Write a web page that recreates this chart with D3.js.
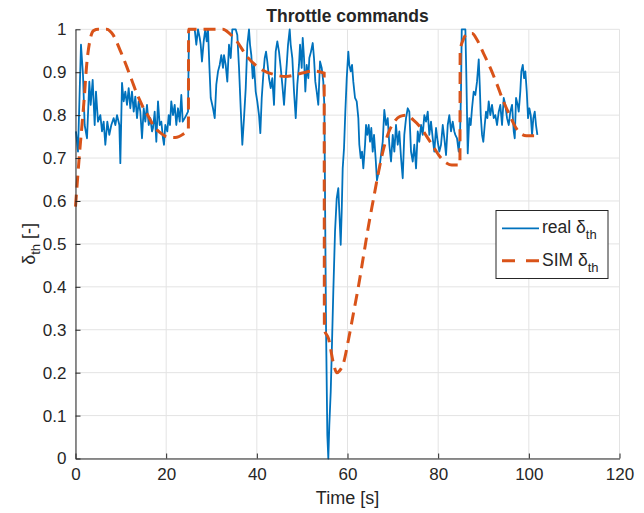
<!DOCTYPE html>
<html><head><meta charset="utf-8">
<script src="https://cdn.jsdelivr.net/npm/d3@7"></script>
<style>
body{margin:0;background:#fff}
svg{display:block}
text{font-family:"Liberation Sans",Arial,Helvetica,sans-serif;fill:#262626}
</style>
</head><body>
<svg id="chart" width="644" height="513"></svg>
<script>
const titleText = "Throttle commands";
const xLabel = "Time [s]";
const xTicks = [0, 20, 40, 60, 80, 100, 120];
const yTicks = [0, 0.1, 0.2, 0.3, 0.4, 0.5, 0.6, 0.7, 0.8, 0.9, 1];
const yTickLabels = ["0", "0.1", "0.2", "0.3", "0.4", "0.5", "0.6", "0.7", "0.8", "0.9", "1"];
const seriesNames = ["real", "SIM"];

const realT = [0.1,0.55,1.21,1.65,2.02,2.54,3.05,3.35,3.79,4.23,4.52,4.96,5.48,5.85,6.21,6.58,7.02,7.46,7.9,8.42,8.79,9.16,9.67,9.89,10.26,10.63,10.99,11.36,11.73,12.09,12.46,12.84,13.19,13.57,13.94,14.3,14.67,15.05,15.4,15.77,16.15,16.5,16.88,17.1,17.47,17.83,18.2,18.57,18.93,19.3,19.52,19.81,20.25,20.56,20.85,21.13,21.51,21.88,22.24,22.61,22.99,23.34,23.65,24.09,24.44,24.82,25.04,26.3,26.65,27.02,27.4,27.62,27.9,28.28,28.63,28.94,29.23,29.52,29.83,30.33,30.71,31.06,31.44,31.81,32.16,32.54,32.76,33.13,33.49,33.86,34.24,34.59,35.34,35.69,36.07,36.44,36.8,37.17,37.55,37.9,38.27,38.5,38.78,39.09,39.38,39.75,40.1,40.48,40.77,41.08,41.43,41.74,42.03,42.31,42.69,43.06,43.41,43.79,44.16,44.52,44.89,45.27,45.62,46.0,46.37,46.59,46.88,47.25,47.47,47.83,48.2,48.58,48.93,49.3,49.53,49.9,50.12,50.41,50.7,51.0,51.36,51.58,51.95,52.33,52.61,52.9,53.21,53.56,53.94,54.31,54.66,54.89,55.26,55.55,55.77,55.99,56.3,56.59,56.87,57.25,57.62,57.97,58.2,58.5,58.72,58.94,59.23,59.52,59.83,60.18,60.4,60.71,61.0,61.28,61.66,62.03,62.39,62.61,62.92,63.2,63.49,63.87,64.09,64.37,64.68,64.97,65.25,65.56,65.85,66.2,66.5,67.03,67.39,67.77,68.12,68.5,68.87,69.23,69.6,69.98,70.33,70.7,71.08,71.43,71.81,72.18,72.53,72.91,73.29,73.64,74.01,74.39,74.74,75.12,75.49,75.84,76.22,76.59,76.95,77.32,77.7,78.05,78.42,78.8,79.15,79.53,79.9,80.26,80.63,81.01,81.36,81.74,82.11,82.46,82.84,83.21,83.56,83.79,84.16,84.53,84.82,85.04,85.2,86.0,86.21,86.52,86.87,87.18,87.47,87.84,88.2,88.57,88.95,89.17,89.39,89.68,89.96,90.27,90.56,90.85,91.15,91.51,91.88,92.26,92.61,92.99,93.36,93.71,94.09,94.46,94.82,95.19,95.57,95.92,96.3,96.67,96.89,97.18,97.55,97.77,98.12,98.35,98.66,98.95,99.23,99.54,99.83,100.11,100.42,100.71,100.99,101.3,101.58,101.88];
const realV = [0.762,0.715,0.964,0.894,0.777,0.746,0.878,0.824,0.882,0.777,0.855,0.785,0.8,0.762,0.785,0.731,0.785,0.754,0.777,0.793,0.777,0.8,0.777,0.688,0.875,0.832,0.855,0.824,0.863,0.816,0.855,0.808,0.843,0.793,0.832,0.808,0.746,0.816,0.785,0.824,0.777,0.793,0.762,0.77,0.808,0.738,0.832,0.777,0.785,0.746,0.731,0.777,0.762,0.8,0.777,0.832,0.8,0.824,0.777,0.816,0.785,0.847,0.785,0.793,0.8,0.808,1.0,1.0,0.964,1.0,0.98,0.964,0.925,0.972,1.0,0.972,1.0,0.917,0.84,0.816,0.793,0.871,0.902,0.917,0.94,0.91,0.94,0.917,0.878,0.964,0.933,1.0,1.0,0.987,0.91,0.816,0.731,0.793,0.863,0.964,1.0,0.964,0.94,0.886,0.917,0.855,0.832,0.8,0.758,0.84,0.894,0.933,0.948,0.925,0.886,0.863,0.886,0.824,0.948,0.972,0.948,0.91,0.871,0.824,0.886,0.917,0.964,1.0,0.964,0.933,0.855,0.793,0.871,0.917,0.964,0.91,0.98,0.933,0.855,0.917,0.886,0.933,0.948,0.968,0.933,0.878,0.855,0.824,0.925,0.91,0.878,0.824,0.311,0.055,0.0,0.078,0.156,0.272,0.389,0.529,0.606,0.63,0.575,0.498,0.575,0.676,0.723,0.808,0.886,0.948,0.917,0.902,0.917,0.878,0.84,0.832,0.793,0.731,0.7,0.715,0.676,0.731,0.777,0.754,0.777,0.738,0.77,0.715,0.754,0.7,0.648,0.676,0.707,0.738,0.812,0.777,0.793,0.731,0.692,0.754,0.715,0.777,0.731,0.762,0.7,0.653,0.754,0.793,0.816,0.808,0.715,0.692,0.731,0.676,0.762,0.738,0.777,0.754,0.8,0.785,0.808,0.754,0.785,0.746,0.715,0.77,0.738,0.715,0.731,0.777,0.746,0.707,0.777,0.8,0.762,0.785,0.762,0.754,0.746,0.715,0.754,0.855,1.0,1.0,0.894,0.711,0.793,0.777,0.816,0.855,0.847,0.878,0.93,0.871,0.8,0.754,0.738,0.777,0.808,0.793,0.832,0.8,0.824,0.793,0.8,0.777,0.808,0.824,0.777,0.84,0.824,0.793,0.777,0.808,0.824,0.762,0.746,0.84,0.824,0.808,0.855,0.902,0.917,0.886,0.902,0.855,0.793,0.816,0.8,0.754,0.793,0.808,0.777,0.754];

const simT = [0,0.3,0.6,1.0,1.4,1.9,2.5,3.2,4.0,5.0,6.9,7.6,8.3,9.1,9.8,10.6,11.3,12.4,13.5,14.3,15.0,16.1,17.2,18.6,20.1,22.0,23.8,24.9,24.95,27.0,30.0,32.5,34.0,35.6,37.8,40.5,44.0,46.4,50.0,52.5,54.85,54.9,55.8,56.9,57.6,58.3,59.1,60.2,61.3,62.4,63.5,64.6,65.7,66.8,67.9,69.0,70.1,71.6,73.0,74.5,76.0,77.5,78.9,80.4,81.9,83.0,84.8,84.85,85.5,86.5,87.5,88.6,90.0,91.5,93.0,94.4,95.9,97.0,98.1,99.5,101.9];
const simV = [0.587,0.63,0.672,0.725,0.773,0.836,0.921,0.975,0.997,1.0,1.0,0.996,0.987,0.97,0.952,0.932,0.913,0.882,0.851,0.832,0.816,0.797,0.775,0.76,0.75,0.748,0.756,0.766,1.0,1.0,1.0,1.0,0.99,0.972,0.937,0.91,0.894,0.89,0.898,0.903,0.898,0.30,0.28,0.222,0.2,0.205,0.222,0.276,0.338,0.40,0.47,0.54,0.603,0.665,0.719,0.758,0.781,0.797,0.80,0.789,0.773,0.75,0.727,0.703,0.688,0.684,0.684,0.95,0.975,0.99,0.99,0.975,0.944,0.91,0.871,0.832,0.797,0.773,0.758,0.752,0.752];

const colors = ["#0072BD", "#D95319"];

const svg = d3.select("#chart");
const L = 75.5, R = 619.5, T = 29.3, B = 458.5;
const x = d3.scaleLinear().domain([0, 120]).range([L, R]);
const y = d3.scaleLinear().domain([0, 1]).range([B, T]);

// grid
const grid = svg.append("g");
grid.selectAll("line.gx").data(xTicks).enter().append("line")
  .attr("x1", d => x(d)).attr("x2", d => x(d)).attr("y1", T).attr("y2", B)
  .attr("stroke", "#e3e3e3").attr("stroke-width", 1);
grid.selectAll("line.gy").data(yTicks).enter().append("line")
  .attr("y1", d => y(d)).attr("y2", d => y(d)).attr("x1", L).attr("x2", R)
  .attr("stroke", "#e3e3e3").attr("stroke-width", 1);

// data lines
const realData = realT.map((t, i) => [t, realV[i]]);
const simData = simT.map((t, i) => [t, simV[i]]);
const line = d3.line().x(d => x(d[0])).y(d => y(d[1]));
svg.append("path").datum(realData).attr("d", line)
  .attr("fill", "none").attr("stroke", colors[0]).attr("stroke-width", 1.8)
  .attr("stroke-linejoin", "round");
svg.append("path").datum(simData).attr("d", line.curve(d3.curveMonotoneX))
  .attr("fill", "none").attr("stroke", colors[1]).attr("stroke-width", 3)
  .attr("stroke-dasharray", "12,7");

// axes
const fs = 17;
const xAxis = d3.axisBottom(x).tickValues(xTicks).tickSizeInner(-5).tickSizeOuter(0).tickPadding(9);
const gx = svg.append("g").attr("transform", `translate(0,${B})`).call(xAxis);
const yAxis = d3.axisLeft(y).tickValues(yTicks).tickFormat((d, i) => yTickLabels[i]).tickSizeInner(-5).tickSizeOuter(0).tickPadding(9);
const gy = svg.append("g").attr("transform", `translate(${L},0)`).call(yAxis);
[gx, gy].forEach(g => {
  g.select(".domain").attr("stroke", "#262626").attr("stroke-width", 1);
  g.selectAll(".tick line").attr("stroke", "#262626");
  g.selectAll(".tick text").attr("font-size", fs).attr("fill", "#262626")
    .style("font-family", '"Liberation Sans",Arial,sans-serif');
});

// title and labels
svg.append("text").attr("x", (L + R) / 2).attr("y", 22).attr("text-anchor", "middle")
  .attr("font-size", 17.5).attr("font-weight", "bold").attr("fill", "#000").text(titleText);
svg.append("text").attr("x", (L + R) / 2).attr("y", 504).attr("text-anchor", "middle")
  .attr("font-size", 18).text(xLabel);
const yl = svg.append("text").attr("transform", `translate(35,${(T + B) / 2}) rotate(-90)`)
  .attr("text-anchor", "middle").attr("font-size", 18);
yl.append("tspan").text("δ");
yl.append("tspan").attr("font-size", 13).attr("dy", 5).text("th");
yl.append("tspan").attr("dy", -5).text(" [-]");

// legend
const lg = svg.append("g");
lg.append("rect").attr("x", 496).attr("y", 210.5).attr("width", 112).attr("height", 68)
  .attr("fill", "#fff").attr("stroke", "#262626").attr("stroke-width", 1);
const rows = [228.3, 260.7];
seriesNames.forEach((name, i) => {
  lg.append("line").attr("x1", 502).attr("x2", 539).attr("y1", rows[i]).attr("y2", rows[i])
    .attr("stroke", colors[i]).attr("stroke-width", i === 0 ? 1.8 : 3)
    .attr("stroke-dasharray", i === 0 ? null : "13,11");
  const t = lg.append("text").attr("x", 542).attr("y", rows[i] + 5).attr("font-size", 17.5);
  t.append("tspan").text(name + " δ");
  t.append("tspan").attr("font-size", 13).attr("dy", 6).text("th");
});
</script>
</body></html>
